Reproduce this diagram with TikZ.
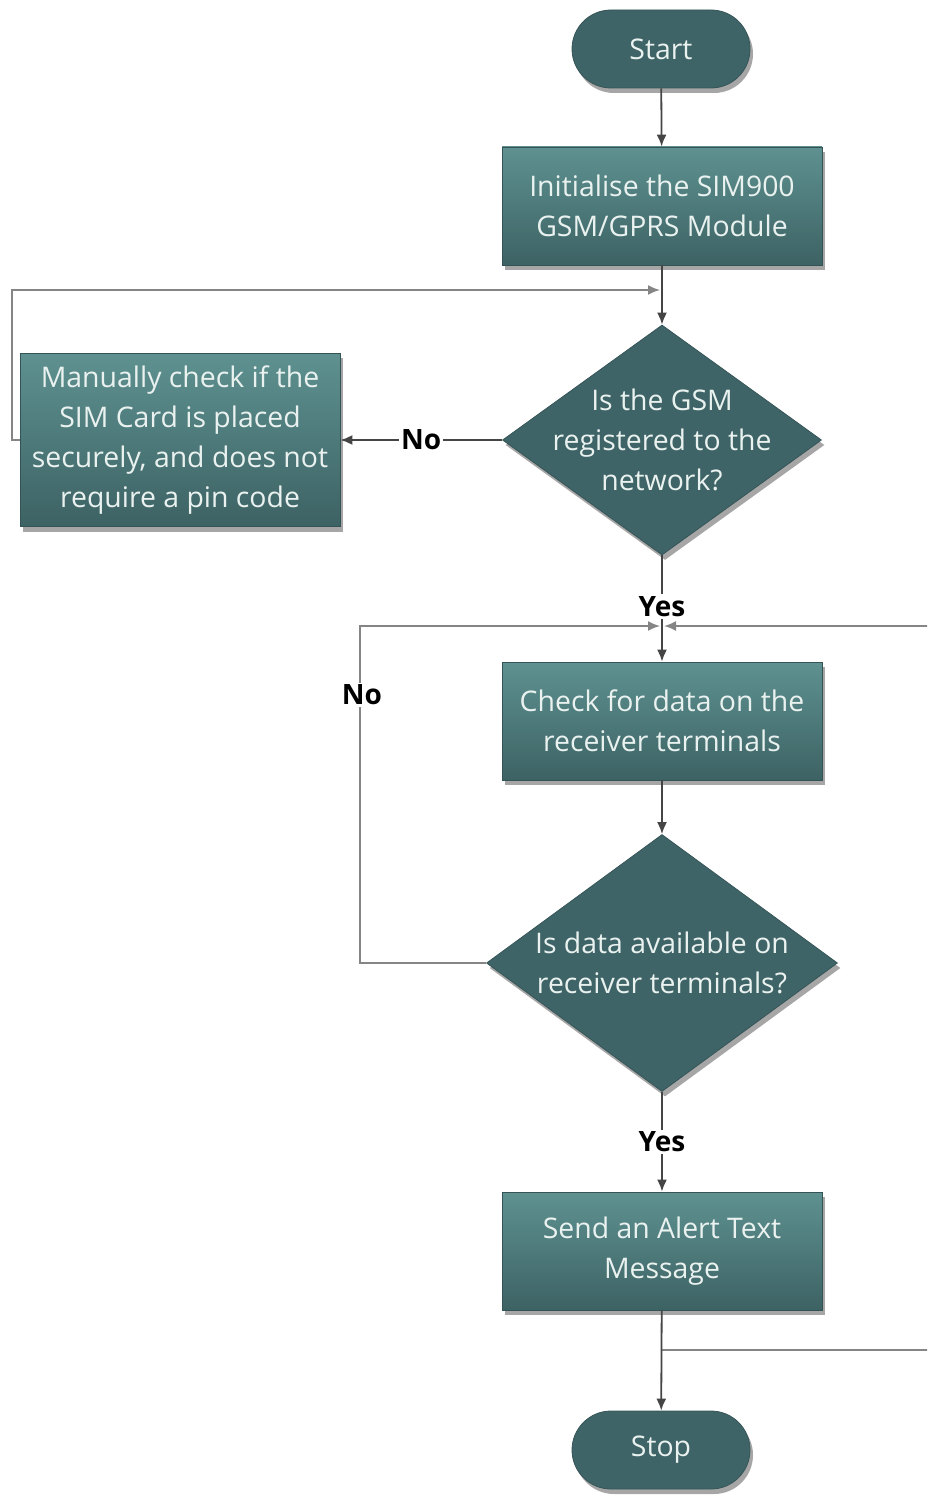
\documentclass[tikz,border=0pt]{standalone}
\usepackage{fontspec}
\setmainfont{Open Sans}
\usetikzlibrary{shapes.geometric,shadows,arrows.meta}
\definecolor{boxtop}{HTML}{5E9190}
\definecolor{boxbot}{HTML}{3D6264}
\definecolor{dark}{HTML}{3F6467}
\definecolor{txt}{HTML}{EAF2F0}
\definecolor{arrcol}{HTML}{454545}
\definecolor{loopcol}{HTML}{858585}
\begin{document}
\begin{tikzpicture}[x=0.5pt,y=-0.5pt,
  shad/.style={drop shadow={opacity=0.35, shadow xshift=1.5pt, shadow yshift=-2.5pt, fill=black}},
  txtfont/.style={font=\fontsize{14.2}{20}\selectfont, text=txt, align=center},
  proc/.style={rectangle, minimum width=160pt, minimum height=59pt, top color=boxtop, bottom color=boxbot,
    draw=boxbot!85!black, line width=0.4pt, inner sep=1pt, txtfont, shad},
  term/.style={rectangle, rounded corners=19.5pt, minimum width=89pt, minimum height=39pt, fill=dark,
    draw=dark!85!black, line width=0.4pt, txtfont, shad},
  dec/.style={diamond, fill=dark, draw=dark!85!black, line width=0.4pt, txtfont, shad},
  arr/.style={draw=arrcol, line width=0.9pt, -{Latex[length=6pt,width=5pt]}},
  loopl/.style={draw=loopcol, line width=0.9pt},
  lab/.style={font=\fontsize{14}{16}\selectfont\bfseries, text=black, fill=white, inner sep=1pt}]
\useasboundingbox (0,0) rectangle (927,1497);
\clip (0,0) rectangle (927,1497);

% nodes
\node[term] (start) at (661,49) {Start};
\node[proc] (init) at (662,206) {Initialise the SIM900\\GSM/GPRS Module};
\node[dec, minimum width=159.5pt, minimum height=115pt, shape aspect=1.39, inner sep=-14pt] (d1) at (662,440) {Is the GSM\\registered to the\\network?};
\node[proc, minimum height=86.5pt] (man) at (180,440) {Manually check if the\\SIM Card is placed\\securely, and does not\\require a pin code};
\node[proc] (check) at (662,721) {Check for data on the\\receiver terminals};
\node[dec, minimum width=175.5pt, minimum height=128.5pt, shape aspect=1.37, inner sep=-12pt] (d2) at (662,963) {Is data available on\\receiver terminals?};
\node[proc] (send) at (662,1251) {Send an Alert Text\\Message};
\node[term] (stop) at (661,1450) {Stop};

% junction coordinates
\coordinate (j1) at (662,290);
\coordinate (j2) at (662,626);
\coordinate (j3) at (662,1350);
\coordinate (l1) at (12,440);
\coordinate (l2) at (360,963);
\coordinate (r3) at (945,1350);

% loops (drawn first)
\draw[loopl, -{Latex[length=6pt,width=5pt]}, shorten >=1pt] (man.west) -- (l1) |- (j1);
\draw[loopl, -{Latex[length=6pt,width=5pt]}, shorten >=1pt] (d2.west) -- (l2) |- (j2);
\draw[loopl, -{Latex[length=6pt,width=5pt]}, shorten >=1pt] (j3) -- (r3) |- (j2);
\node[lab] (no2) at (362,695) {No};

% main flow
\draw[arr] (start) -- (init);
\draw[arr] (init) -- (d1);
\draw[arr] (d1) -- node[lab] (no1) {No} (man);
\draw[arr] (d1.south) -- node[lab, pos=0.48] (yes1) {Yes} (check.north);
\draw[arr] (check) -- (d2);
\draw[arr] (d2) -- node[lab] (yes2) {Yes} (send);
\draw[arr] (send) -- (stop);
\end{tikzpicture}
\end{document}
